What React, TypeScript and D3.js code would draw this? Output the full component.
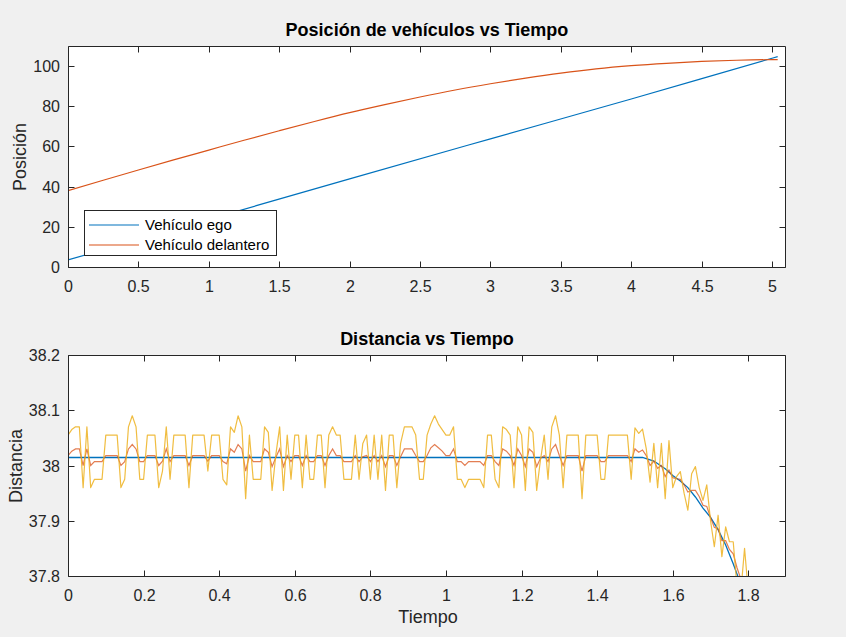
import React from "react";
import * as d3 from "d3";

const FONT = "'Liberation Sans', Arial, Helvetica, sans-serif";
const W = 846;
const H = 637;

// ---------- Top chart data ----------
const egoTime = [0, 1, 2, 3, 4, 5, 5.04];
const egoPosition = [3.5, 23.7, 43.9, 63.8, 83.6, 103.9, 104.7];
const leadTime = [0, 0.25, 0.5, 0.75, 1, 1.25, 1.5, 1.75, 2, 2.25, 2.5, 2.75, 3, 3.25, 3.5, 3.75, 4, 4.25, 4.5, 4.75, 5, 5.04];
const leadPosition = [38, 43.2, 48.3, 53.3, 58.2, 63.1, 67.8, 72.4, 76.8, 80.8, 84.6, 88.1, 91.2, 94.0, 96.5, 98.6, 100.2, 101.4, 102.3, 102.9, 103.2, 103.2];
const posXTicks = [0, 0.5, 1, 1.5, 2, 2.5, 3, 3.5, 4, 4.5, 5];
const posYTicks = [0, 20, 40, 60, 80, 100];
const legendLabels = ["Vehículo ego", "Vehículo delantero"];

// ---------- Bottom chart data ----------
const distDt = 0.01;
const distMeasured = [
  38.055, 38.065, 38.07, 38.07, 37.96, 38.07, 37.96, 37.975, 37.975, 37.975,
  38.055, 38.055, 38.055, 38.055, 37.96, 37.975, 38.07, 38.09, 38.07, 37.975,
  37.975, 38.055, 38.055, 38.055, 37.96, 37.99, 38.07, 37.975, 38.055, 38.055,
  38.055, 38.055, 37.96, 38.055, 38.055, 38.055, 38.055, 37.99, 38.055, 38.055,
  38.055, 37.975, 37.965, 38.07, 38.06, 38.09, 38.07, 37.94, 38.055, 37.975,
  37.975, 37.975, 38.07, 38.06, 37.955, 38.02, 38.07, 37.955, 38.055, 37.975,
  38.055, 38.055, 37.96, 38.055, 37.975, 37.975, 38.055, 38.055, 37.96, 38.055,
  38.07, 38.055, 38.055, 37.975, 37.975, 37.975, 38.055, 37.975, 38.04, 38.055,
  37.975, 38.055, 37.975, 38.055, 37.955, 38.055, 38.055, 37.96, 38.04, 38.07,
  38.07, 38.07, 38.055, 37.975, 37.975, 38.055, 38.075, 38.09, 38.075, 38.065,
  38.055, 38.055, 38.07, 37.975, 37.975, 37.96, 37.975, 37.975, 37.975, 37.975,
  37.96, 38.055, 38.055, 37.975, 37.96, 38.07, 38.065, 38.055, 37.96, 38.07,
  38.055, 37.955, 38.07, 38.06, 37.955, 38.01, 38.055, 37.975, 38.07, 38.09,
  38.055, 37.96, 38.055, 38.055, 38.055, 38.055, 37.94, 38.055, 38.055, 38.055,
  38.055, 37.975, 37.975, 38.055, 38.055, 38.055, 38.055, 38.055, 38.055, 37.975,
  38.068, 38.058, 38.066, 38.03, 37.97, 38.04, 37.96, 38.04, 37.94, 38.045,
  37.96, 37.98, 37.989, 37.95, 37.919, 37.985, 37.998, 37.96, 37.937, 37.965,
  37.9, 37.853, 37.91, 37.835, 37.889, 37.862, 37.862, 37.78, 37.77, 37.85,
  37.77,
];
const distEstimated = [
  38.018, 38.026, 38.03, 38.03, 38.0, 38.03, 38.0, 38.007, 38.007, 38.007,
  38.018, 38.018, 38.018, 38.018, 38.0, 38.007, 38.03, 38.038, 38.03, 38.007,
  38.007, 38.018, 38.018, 38.018, 38.0, 38.008, 38.03, 38.007, 38.018, 38.018,
  38.018, 38.018, 38.0, 38.018, 38.018, 38.018, 38.018, 38.008, 38.018, 38.018,
  38.018, 38.007, 38.003, 38.03, 38.024, 38.038, 38.03, 37.99, 38.018, 38.007,
  38.007, 38.007, 38.03, 38.024, 37.998, 38.015, 38.03, 37.998, 38.018, 38.007,
  38.018, 38.018, 38.0, 38.018, 38.007, 38.007, 38.018, 38.018, 38.0, 38.018,
  38.03, 38.018, 38.018, 38.007, 38.007, 38.007, 38.018, 38.007, 38.016, 38.018,
  38.007, 38.018, 38.007, 38.018, 37.998, 38.018, 38.018, 38.0, 38.016, 38.03,
  38.03, 38.03, 38.018, 38.007, 38.007, 38.018, 38.032, 38.038, 38.032, 38.026,
  38.018, 38.018, 38.03, 38.007, 38.007, 38.0, 38.007, 38.007, 38.007, 38.007,
  38.0, 38.018, 38.018, 38.007, 38.0, 38.03, 38.026, 38.018, 38.0, 38.03,
  38.018, 37.998, 38.03, 38.024, 37.998, 38.013, 38.018, 38.007, 38.03, 38.038,
  38.018, 38.0, 38.018, 38.018, 38.018, 38.018, 37.99, 38.018, 38.018, 38.018,
  38.018, 38.007, 38.007, 38.018, 38.018, 38.018, 38.018, 38.018, 38.018, 38.007,
  38.03, 38.024, 38.028, 38.018, 38.0, 38.008, 37.995, 38.0, 37.98, 37.992,
  37.978, 37.976, 37.975, 37.965, 37.952, 37.955, 37.955, 37.944, 37.928, 37.926,
  37.906, 37.888, 37.885, 37.864, 37.864, 37.848, 37.84, 37.815, 37.795, 37.795,
  37.78,
];
const distTrueTime = [0, 1.52, 1.55, 1.58, 1.6, 1.62, 1.64, 1.66, 1.68, 1.7, 1.72, 1.74, 1.76, 1.78];
const distTrue = [38.0145, 38.0145, 38.008, 37.994, 37.982, 37.972, 37.96, 37.943, 37.923, 37.906, 37.884, 37.856, 37.822, 37.785];
const distXTicks = [0, 0.2, 0.4, 0.6, 0.8, 1, 1.2, 1.4, 1.6, 1.8];
const distYTicks = [37.8, 37.9, 38, 38.1, 38.2];

const COLORS = { blue: "#0072BD", red: "#D95319", yellow: "#EDB120", axis: "#262626" };
const TICK_FS = 16;
const LABEL_FS = 18;

type Box = { left: number; right: number; top: number; bottom: number };

function AxesFrame({ box, x, y, xTicks, yTicks, xLabelY }: {
  box: Box; x: d3.ScaleLinear<number, number>; y: d3.ScaleLinear<number, number>;
  xTicks: number[]; yTicks: number[]; xLabelY: number;
}) {
  const tl = 6;
  const L = box.left + 0.5, R = box.right + 0.5, T = box.top + 0.5, B = box.bottom + 0.5;
  return (
    <g>
      <path d={`M${L},${T}H${R}V${B}H${L}Z`} fill="none" stroke={COLORS.axis} strokeWidth={1} />
      {xTicks.map((t) => {
        const px = Math.round(x(t)) + 0.5;
        return (
          <g key={"x" + t}>
            <line x1={px} x2={px} y1={B} y2={B - tl} stroke={COLORS.axis} />
            <line x1={px} x2={px} y1={T} y2={T + tl} stroke={COLORS.axis} />
            <text x={px} y={xLabelY} textAnchor="middle" fontSize={TICK_FS} fontFamily={FONT} fill={COLORS.axis}>{String(t)}</text>
          </g>
        );
      })}
      {yTicks.map((t) => {
        const py = Math.round(y(t)) + 0.5;
        return (
          <g key={"y" + t}>
            <line x1={L} x2={L + tl} y1={py} y2={py} stroke={COLORS.axis} />
            <line x1={R} x2={R - tl} y1={py} y2={py} stroke={COLORS.axis} />
            <text x={box.left - 8} y={py} dy="0.36em" textAnchor="end" fontSize={TICK_FS} fontFamily={FONT} fill={COLORS.axis}>{String(t)}</text>
          </g>
        );
      })}
    </g>
  );
}

export default function App() {
  const top: Box = { left: 68, right: 785, top: 46, bottom: 267 };
  const bot: Box = { left: 68, right: 785, top: 355, bottom: 576 };

  const x1 = d3.scaleLinear().domain([0, 5.092]).range([top.left, top.right]);
  const y1 = d3.scaleLinear().domain([0, 110]).range([top.bottom, top.top]);
  const x2 = d3.scaleLinear().domain([0, 1.897]).range([bot.left, bot.right]);
  const y2 = d3.scaleLinear().domain([37.8, 38.2]).range([bot.bottom, bot.top]);

  const line1 = d3.line<[number, number]>().x((d) => x1(d[0])).y((d) => y1(d[1])).curve(d3.curveMonotoneX);
  const egoPath = line1(egoTime.map((t, i) => [t, egoPosition[i]]))!;
  const leadPath = line1(leadTime.map((t, i) => [t, leadPosition[i]]))!;

  const line2 = d3.line<[number, number]>().x((d) => x2(d[0])).y((d) => y2(d[1]));
  const truePath = line2(distTrueTime.map((t, i) => [t, distTrue[i]]))!;
  const estPath = line2(distEstimated.map((v, i) => [i * distDt, v]))!;
  const measPath = line2(distMeasured.map((v, i) => [i * distDt, v]))!;

  return (
    <div style={{ position: "absolute", left: 0, top: 0 }}>
      <svg width={W} height={H} viewBox={`0 0 ${W} ${H}`} style={{ display: "block" }}>
        <defs>
          <clipPath id="clipTop"><rect x={top.left} y={top.top} width={top.right - top.left} height={top.bottom - top.top} /></clipPath>
          <clipPath id="clipBot"><rect x={bot.left} y={bot.top} width={bot.right - bot.left} height={bot.bottom - bot.top} /></clipPath>
        </defs>
        <rect x={0} y={0} width={W} height={H} fill="#F0F0F0" />

        {/* Top chart */}
        <rect x={top.left} y={top.top} width={top.right - top.left} height={top.bottom - top.top} fill="#fff" />
        <g clipPath="url(#clipTop)">
          <path d={egoPath} fill="none" stroke={COLORS.blue} strokeWidth={1.2} />
          <path d={leadPath} fill="none" stroke={COLORS.red} strokeWidth={1.2} />
        </g>
        <AxesFrame box={top} x={x1} y={y1} xTicks={posXTicks} yTicks={posYTicks} xLabelY={292} />
        <text x={427} y={36} textAnchor="middle" fontSize={LABEL_FS} fontWeight="bold" fontFamily={FONT} fill="#000">Posición de vehículos vs Tiempo</text>
        <text transform="translate(25.5,157) rotate(-90)" textAnchor="middle" fontSize={LABEL_FS} fontFamily={FONT} fill={COLORS.axis}>Posición</text>

        {/* Legend */}
        <g>
          <rect x={84.5} y={210.5} width={192} height={45} fill="#fff" stroke={COLORS.axis} strokeWidth={1} />
          {legendLabels.map((lab, i) => {
            const ly = 225 + i * 20;
            return (
              <g key={lab}>
                <line x1={89} x2={139} y1={ly} y2={ly} stroke={i === 0 ? COLORS.blue : COLORS.red} strokeWidth={1.2} />
                <text x={145} y={ly} dy="0.35em" fontSize={15} fontFamily={FONT} fill="#000">{lab}</text>
              </g>
            );
          })}
        </g>

        {/* Bottom chart */}
        <rect x={bot.left} y={bot.top} width={bot.right - bot.left} height={bot.bottom - bot.top} fill="#fff" />
        <g clipPath="url(#clipBot)">
          <path d={truePath} fill="none" stroke={COLORS.blue} strokeWidth={1.3} />
          <path d={estPath} fill="none" stroke={COLORS.red} strokeWidth={1.2} strokeOpacity={0.75} />
          <path d={measPath} fill="none" stroke={COLORS.yellow} strokeWidth={1.2} strokeOpacity={0.85} strokeLinejoin="round" />
        </g>
        <AxesFrame box={bot} x={x2} y={y2} xTicks={distXTicks} yTicks={distYTicks} xLabelY={601} />
        <text x={427} y={345} textAnchor="middle" fontSize={LABEL_FS} fontWeight="bold" fontFamily={FONT} fill="#000">Distancia vs Tiempo</text>
        <text transform="translate(21.5,466) rotate(-90)" textAnchor="middle" fontSize={LABEL_FS} fontFamily={FONT} fill={COLORS.axis}>Distancia</text>
        <text x={428} y={623} textAnchor="middle" fontSize={LABEL_FS} fontFamily={FONT} fill={COLORS.axis}>Tiempo</text>
      </svg>
    </div>
  );
}
